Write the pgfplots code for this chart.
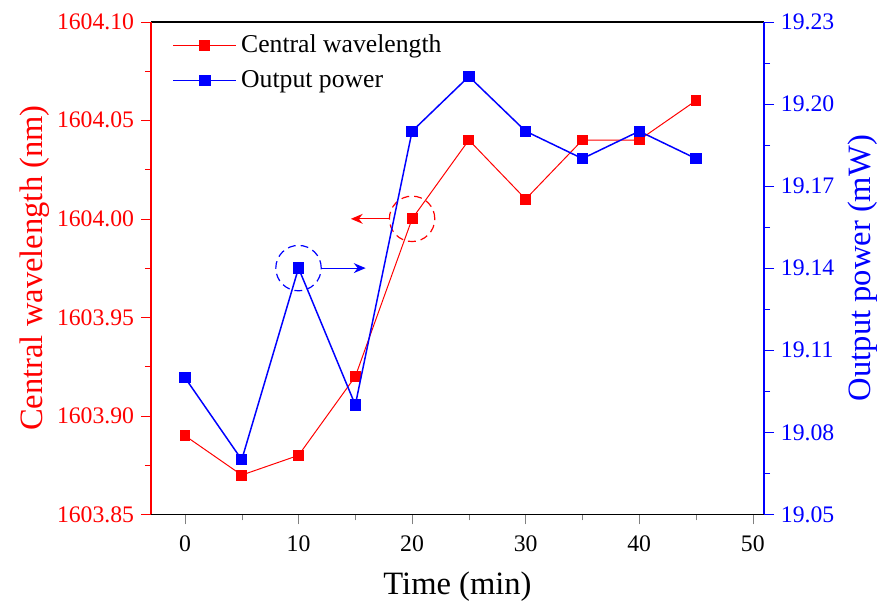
\documentclass[border=0pt]{standalone}
\usepackage{fontspec}
\setmainfont{Liberation Serif}
\newfontfamily\tnr{Liberation Serif}
\usepackage{pgfplots}
\pgfplotsset{compat=1.18}
\usetikzlibrary{arrows.meta}

\definecolor{wred}{RGB}{255,0,0}
\definecolor{pblue}{RGB}{0,0,255}

\pgfplotsset{
  common/.style={
    width=310.5pt, height=249.5pt, scale only axis,
    xmin=-3, xmax=51,
    tick align=outside,
    minor tick num=1,
    major tick length=5pt, minor tick length=3pt,
    tick label style={font=\tnr\fontsize{12}{14}\selectfont},
    label style={font=\tnr\fontsize{16.5}{19}\selectfont},
    /pgf/number format/assume math mode=true,
    /pgf/number format/1000 sep={},
  },
}

\begin{document}
\begin{tikzpicture}
\begin{axis}[
    common,
    axis x line*=box,
    axis y line*=left,
    xtick={0,10,...,50},
    xtick pos=bottom,
    xticklabel style={yshift=-2.5pt},
    xlabel={Time (min)},
    xlabel style={yshift=-3pt},
    ymin=1603.85, ymax=1604.10,
    ytick={1603.85,1603.90,1603.95,1604.00,1604.05,1604.10},
    yticklabel style={color=wred, /pgf/number format/fixed, /pgf/number format/fixed zerofill, /pgf/number format/precision=2},
    y axis line style={wred, line width=0.7pt},
    ytick style={wred},
    ylabel={Central wavelength (nm)},
    ylabel style={color=wred, yshift=-3pt},
    x axis line style={black, line width=0.8pt},
]
\addplot[wred, line width=0.5pt, mark=square*, mark size=2.5pt] coordinates {
  (0,1603.89) (5,1603.87) (10,1603.88) (15,1603.92) (20,1604.00)
  (25,1604.04) (30,1604.01) (35,1604.04) (40,1604.04) (45,1604.06)
};
\draw[wred, dash pattern=on 4pt off 2.5pt, line width=0.6pt] (axis cs:20,1604.00) circle[radius=11.5pt];
\draw[wred, line width=0.6pt, -{Stealth[length=6pt,width=5pt]}] ([xshift=-11.5pt]axis cs:20,1604.00) -- ([xshift=-31pt]axis cs:20,1604.00);
\end{axis}

\begin{axis}[
    common,
    axis x line=none,
    axis y line*=right,
    ymin=19.05, ymax=19.23,
    ytick={19.05,19.08,19.11,19.14,19.17,19.20,19.23},
    yticklabel style={color=pblue, /pgf/number format/fixed, /pgf/number format/fixed zerofill, /pgf/number format/precision=2},
    y axis line style={pblue, line width=0.9pt},
    ytick style={pblue},
    ylabel={Output power (mW)},
    ylabel style={color=pblue},
    legend style={at={(0.025,0.99)}, anchor=north west, draw=none, fill=none,
      font=\tnr\fontsize{13}{15}\selectfont, row sep=3.5pt},
    legend cell align=left,
    legend image code/.code={\draw[#1, mark repeat=2, mark phase=2] plot coordinates {(0pt,0pt) (16pt,0pt) (32pt,0pt)};},
]
\addlegendimage{wred, line width=0.5pt, mark=square*, mark size=2.5pt}
\addlegendentry{Central wavelength}
\addplot[pblue, line width=0.75pt, mark=square*, mark size=2.5pt] coordinates {
  (0,19.10) (5,19.07) (10,19.14) (15,19.09) (20,19.19)
  (25,19.21) (30,19.19) (35,19.18) (40,19.19) (45,19.18)
};
\addlegendentry{Output power}
\draw[pblue, dash pattern=on 4pt off 2.5pt, line width=0.6pt] (axis cs:10,19.14) circle[radius=11.5pt];
\draw[pblue, line width=0.6pt, -{Stealth[length=6pt,width=5pt]}] ([xshift=11.5pt]axis cs:10,19.14) -- ([xshift=34pt]axis cs:10,19.14);
\end{axis}
\path ([xshift=-76.4pt, yshift=11pt]current axis.north west) rectangle ([xshift=57pt, yshift=-43.7pt]current axis.south east);
\end{tikzpicture}
\end{document}
